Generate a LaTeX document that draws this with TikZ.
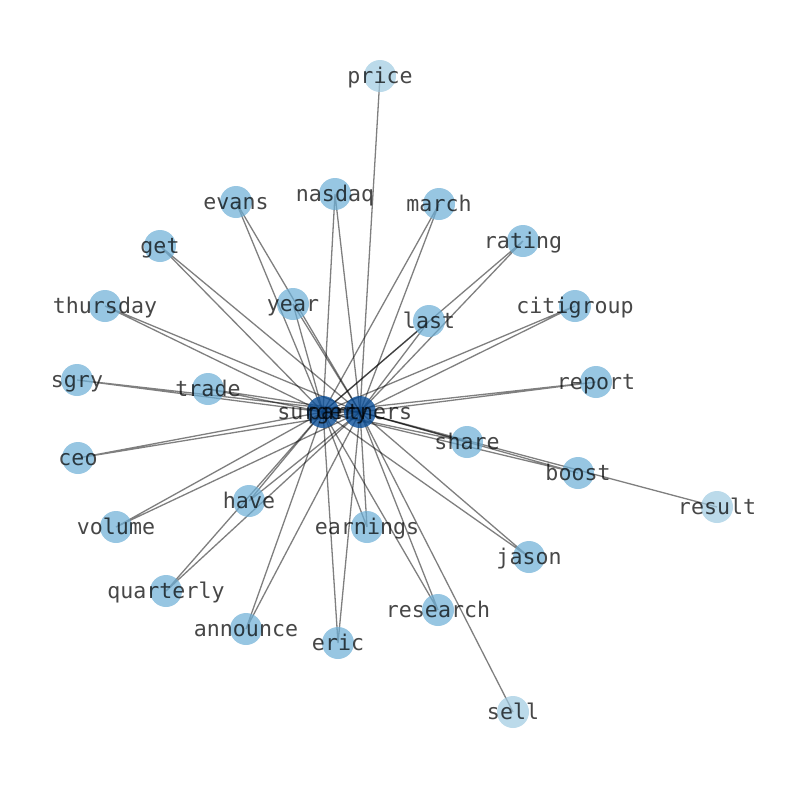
\documentclass[tikz,border=0pt]{standalone}
\usepackage{fontspec}
\newfontfamily\monof{DejaVu Sans Mono}
\definecolor{medc}{HTML}{6BAED6}
\definecolor{lightc}{HTML}{9ECAE1}
\definecolor{hubc}{HTML}{0B4F98}
\tikzset{
  vert/.style={circle, minimum size=32pt, inner sep=0pt, draw=none, fill=medc, fill opacity=0.7},
  lvert/.style={vert, fill=lightc},
  hvert/.style={vert, fill=hubc, fill opacity=0.8},
  lab/.style={font=\monof\fontsize{21.6}{22}\selectfont, text=black, text opacity=0.72, text height=16pt, text depth=1.5pt, inner sep=0pt},
  edge/.style={draw=black, draw opacity=0.5, line width=1.3pt}
}
\begin{document}
\begin{tikzpicture}[x=1pt,y=-1pt]
\useasboundingbox (0,0) rectangle (794,790);
% positions
\foreach \n/\x/\y in {price/380/76, evans/236/202, nasdaq/335/194, march/439/204, get/160/246,
  rating/523/241, thursday/105/306, year/293/304, last/429/321, citigroup/575/306,
  sgry/77/380, trade/208/389, report/596/382, surgery/323/412, partners/360/412,
  ceo/78/458, share/467/442, boost/578/473, result/717/507, have/249/501,
  volume/116/527, earnings/367/527, jason/529/557, quarterly/166/591,
  announce/246/629, eric/338/643, research/438/610, sell/513/712}
  \coordinate (c-\n) at (\x,\y);
% edges
\foreach \n in {evans, nasdaq, march, get, rating, thursday, year, last, citigroup, sgry, trade,
  report, ceo, share, boost, have, volume, earnings, jason, quarterly, announce, eric, research}
  \draw[edge] (c-\n) -- (c-surgery) (c-\n) -- (c-partners);
\foreach \n in {price, result, sell}
  \draw[edge] (c-\n) -- (c-partners);
\draw[edge] (c-surgery) -- (c-partners);
% vertices
\foreach \n in {evans, nasdaq, march, get, rating, thursday, year, last, citigroup, sgry, trade,
  report, ceo, share, boost, have, volume, earnings, jason, quarterly, announce, eric, research}
  \node[vert] (v-\n) at (c-\n) {};
\foreach \n in {price, result, sell}
  \node[lvert] (v-\n) at (c-\n) {};
\foreach \n in {surgery, partners}
  \node[hvert] (v-\n) at (c-\n) {};
% labels
\foreach \n in {price, evans, nasdaq, march, get, rating, thursday, year, last, citigroup, sgry, trade,
  report, surgery, partners, ceo, share, boost, result, have, volume, earnings, jason, quarterly,
  announce, eric, research, sell}
  \node[lab] (l-\n) at (c-\n) {\n};
\end{tikzpicture}
\end{document}
